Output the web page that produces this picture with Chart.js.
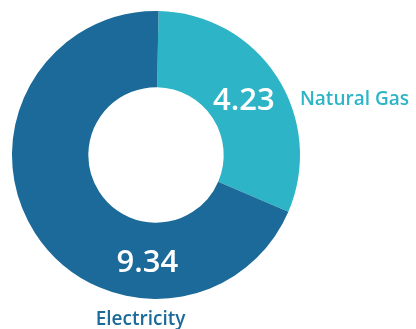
<!DOCTYPE html>
<html>
<head>
<meta charset="utf-8">
<script src="https://cdn.jsdelivr.net/npm/chart.js@4"></script>
<style>
  html, body { margin: 0; padding: 0; background: #fff; }
  #wrap { width: 416px; height: 329px; position: relative; }
</style>
</head>
<body>
<div id="wrap"><canvas id="chart"></canvas></div>
<script>
const categories = ['Natural Gas', 'Electricity'];
const values = [4.23, 9.34];
const colors = ['#2db4c6', '#1b6a99'];

// where each text sits: angle (deg, 0 = right, clockwise) and distance as a share of the outer radius
const valueSpots = [[-27.1, 0.686], [94.2, 0.815]];
const nameSpots = [[-19.1, 1.058, 'left'], [95.2, 1.185, 'center']];

const sliceLabels = {
  id: 'sliceLabels',
  afterDatasetsDraw(chart) {
    const ctx = chart.ctx;
    const arcs = chart.getDatasetMeta(0).data;
    ctx.save();
    ctx.textBaseline = 'alphabetic';
    arcs.forEach((arc, i) => {
      const { x, y, outerRadius } = arc.getProps(['x', 'y', 'outerRadius'], true);
      const [va, vd] = valueSpots[i];
      let a = va * Math.PI / 180;
      ctx.fillStyle = '#ffffff';
      ctx.font = '600 31px "Open Sans"';
      ctx.textAlign = 'center';
      ctx.fillText(values[i].toFixed(2), x + Math.cos(a) * vd * outerRadius, y + Math.sin(a) * vd * outerRadius);

      const [na, nd, align] = nameSpots[i];
      a = na * Math.PI / 180;
      ctx.fillStyle = colors[i];
      ctx.font = '600 19px "Open Sans"';
      ctx.textAlign = align;
      ctx.fillText(categories[i], x + Math.cos(a) * nd * outerRadius, y + Math.sin(a) * nd * outerRadius);
    });
    ctx.restore();
  }
};

new Chart(document.getElementById('chart').getContext('2d'), {
  type: 'doughnut',
  data: {
    labels: categories,
    datasets: [{
      data: values,
      backgroundColor: colors,
      borderWidth: 0,
    }]
  },
  options: {
    responsive: true,
    maintainAspectRatio: false,
    animation: false,
    rotation: 1,
    cutout: '47%',
    layout: { padding: { left: 12, top: 11, right: 116, bottom: 30 } },
    plugins: {
      legend: { display: false },
      tooltip: { enabled: false },
    }
  },
  plugins: [sliceLabels]
});
</script>
</body>
</html>
